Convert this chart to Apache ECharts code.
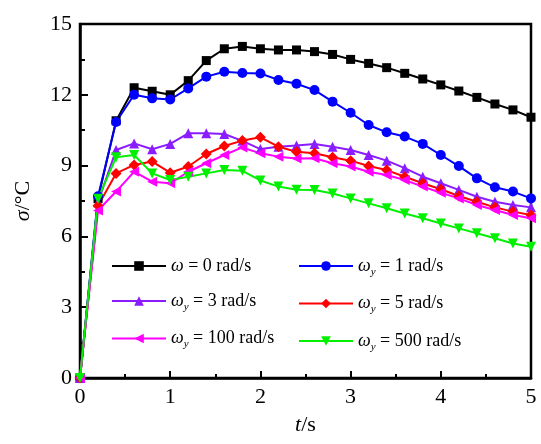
<!DOCTYPE html>
<html>
<head>
<meta charset="utf-8">
<script src="https://cdn.jsdelivr.net/npm/echarts@6/dist/echarts.min.js"></script>
<style>
  html, body { margin: 0; padding: 0; background: #fff; }
  #chart { width: 541px; height: 444px; }
</style>
</head>
<body>
<div id="chart"></div>
<script>
// 时间 t/s
var tData = [0, 0.2, 0.4, 0.6, 0.8, 1.0, 1.2, 1.4, 1.6, 1.8, 2.0, 2.2, 2.4, 2.6, 2.8,
    3.0, 3.2, 3.4, 3.6, 3.8, 4.0, 4.2, 4.4, 4.6, 4.8, 5.0];

// 各转速下的 σ/°C
var w0 = [0, 7.6, 10.9, 12.3, 12.15, 12.0, 12.6, 13.45, 13.95, 14.05, 13.95, 13.9, 13.9,
    13.83, 13.71, 13.5, 13.33, 13.15, 12.91, 12.67, 12.42, 12.16, 11.89, 11.61, 11.36, 11.05];
var w1 = [0, 7.7, 10.85, 12.0, 11.85, 11.8, 12.27, 12.77, 12.98, 12.92, 12.9, 12.63, 12.47,
    12.2, 11.71, 11.24, 10.72, 10.41, 10.23, 9.92, 9.45, 8.98, 8.46, 8.08, 7.9, 7.61];
var w3 = [0, 7.45, 9.66, 9.94, 9.69, 9.92, 10.37, 10.37, 10.34, 10.05, 9.7, 9.8, 9.85,
    9.92, 9.8, 9.66, 9.45, 9.21, 8.89, 8.53, 8.25, 7.97, 7.68, 7.47, 7.33, 7.23];
var w5 = [0, 7.3, 8.67, 9.03, 9.17, 8.7, 8.96, 9.49, 9.83, 10.06, 10.2, 9.8, 9.59,
    9.52, 9.35, 9.21, 8.98, 8.81, 8.53, 8.25, 8.0, 7.71, 7.47, 7.23, 7.05, 6.91];
var w100 = [0, 7.1, 7.9, 8.74, 8.32, 8.25, 8.74, 9.1, 9.45, 9.77, 9.52, 9.38, 9.3,
    9.31, 9.1, 8.96, 8.74, 8.6, 8.39, 8.11, 7.85, 7.61, 7.33, 7.12, 6.91, 6.77];
var w500 = [0, 7.6, 9.35, 9.45, 8.67, 8.39, 8.53, 8.67, 8.81, 8.78, 8.37, 8.11, 7.98,
    7.97, 7.82, 7.61, 7.4, 7.19, 6.97, 6.77, 6.55, 6.34, 6.13, 5.92, 5.7, 5.56];

var legendLabels = {
    w0: '{w|ω} = 0 rad/s',
    w1: '{w|ω}{s|y} = 1 rad/s',
    w3: '{w|ω}{s|y} = 3 rad/s',
    w5: '{w|ω}{s|y} = 5 rad/s',
    w100: '{w|ω}{s|y} = 100 rad/s',
    w500: '{w|ω}{s|y} = 500 rad/s'
};
var yTicks = [0, 3, 6, 9, 12, 15];
var xTicks = [0, 1, 2, 3, 4, 5];

var FONT = 'Liberation Serif';

function pairs(arr) {
    var out = [];
    for (var i = 0; i < arr.length; i++) {
        out.push([tData[i], arr[i]]);
    }
    return out;
}

function mkSeries(name, data, color, symbol, size, rotate) {
    return {
        name: name,
        type: 'line',
        data: pairs(data),
        symbol: symbol,
        symbolSize: size,
        symbolRotate: rotate || 0,
        showAllSymbol: true,
        lineStyle: { color: color, width: 2 },
        itemStyle: { color: color },
        animation: false
    };
}

var legendText = {
    fontFamily: FONT,
    fontSize: 18,
    color: '#000',
    rich: {
        w: { fontFamily: FONT, fontSize: 18, fontStyle: 'italic', color: '#000' },
        s: { fontFamily: FONT, fontSize: 11, fontStyle: 'italic', color: '#000', padding: [12, 0, 0, 0] }
    }
};

var myChart = echarts.init(document.getElementById('chart'));

var option = {
    backgroundColor: '#fff',
    grid: {
        left: 80,
        right: 10,
        top: 24,
        bottom: 66,
        show: true,
        borderColor: '#000',
        borderWidth: 2.5
    },
    legend: [{
        orient: 'vertical',
        left: 106,
        top: 252,
        itemWidth: 54,
        itemHeight: 12,
        itemGap: 17,
        data: ['w0', 'w3', 'w100'],
        formatter: function (n) { return legendLabels[n]; },
        textStyle: legendText
    }, {
        orient: 'vertical',
        left: 293,
        top: 252,
        itemWidth: 54,
        itemHeight: 12,
        itemGap: 17,
        data: ['w1', 'w5', 'w500'],
        formatter: function (n) { return legendLabels[n]; },
        textStyle: legendText
    }],
    xAxis: {
        type: 'value',
        min: 0,
        max: 5,
        interval: 1,
        name: '{i|t}/s',
        nameLocation: 'middle',
        nameGap: 36,
        nameTextStyle: {
            fontFamily: FONT,
            fontSize: 22,
            color: '#000',
            rich: { i: { fontFamily: FONT, fontSize: 22, fontStyle: 'italic', color: '#000' } }
        },
        axisLine: { show: true, lineStyle: { color: '#000', width: 2.5 } },
        axisTick: { show: true, inside: true, length: 7, lineStyle: { color: '#000', width: 2 } },
        minorTick: { show: true, splitNumber: 2, length: 4, lineStyle: { color: '#000', width: 2 } },
        splitLine: { show: false },
        axisLabel: {
            fontFamily: FONT,
            fontSize: 22,
            color: '#000',
            margin: 8,
            customValues: xTicks
        }
    },
    yAxis: {
        type: 'value',
        min: 0,
        max: 15,
        interval: 3,
        name: '{i|σ}/°C',
        nameLocation: 'middle',
        nameGap: 46,
        nameTextStyle: {
            fontFamily: FONT,
            fontSize: 22,
            color: '#000',
            rich: { i: { fontFamily: FONT, fontSize: 22, fontStyle: 'italic', color: '#000' } }
        },
        axisLine: { show: true, lineStyle: { color: '#000', width: 2.5 } },
        axisTick: { show: true, inside: true, length: 8, lineStyle: { color: '#000', width: 2 } },
        minorTick: { show: true, splitNumber: 2, length: 5, lineStyle: { color: '#000', width: 2 } },
        splitLine: { show: false },
        axisLabel: {
            fontFamily: FONT,
            fontSize: 22,
            color: '#000',
            margin: 8,
            customValues: yTicks
        }
    },
    series: [
        mkSeries('w0', w0, '#000000', 'rect', 9),
        mkSeries('w1', w1, '#0000ff', 'circle', 10),
        mkSeries('w3', w3, '#8a1cff', 'triangle', 10),
        mkSeries('w5', w5, '#ff0000', 'diamond', 11),
        mkSeries('w100', w100, '#ff00ff', 'triangle', 10, 90),
        mkSeries('w500', w500, '#00f000', 'triangle', 10, 180)
    ]
};

myChart.setOption(option);

window.addEventListener('resize', function () {
    myChart.resize();
});
</script>
</body>
</html>
